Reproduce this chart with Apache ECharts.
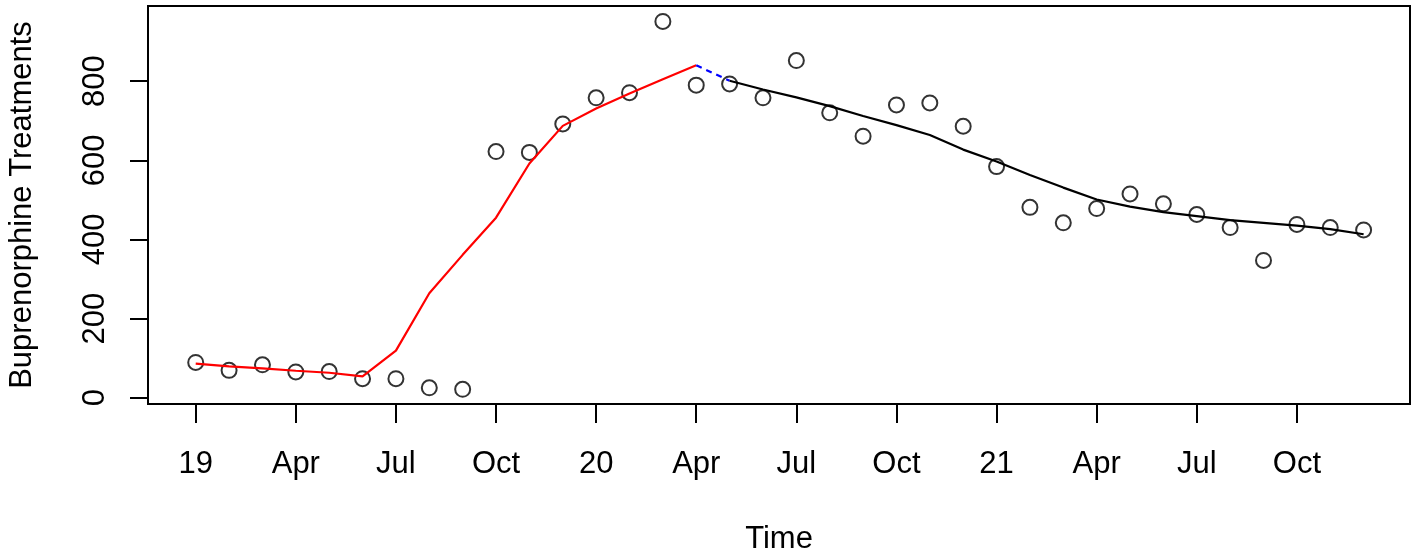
<!DOCTYPE html>
<html>
<head>
<meta charset="utf-8">
<script src="https://cdn.jsdelivr.net/npm/echarts@6/dist/echarts.min.js"></script>
<style>
html,body{margin:0;padding:0;background:#fff;}
#chart{width:1417px;height:554px;}
</style>
</head>
<body>
<div id="chart"></div>
<script>
// Months Jan 2019 .. Dec 2021 (index 0..35)
const months = [
 "2019-01","2019-02","2019-03","2019-04","2019-05","2019-06","2019-07","2019-08","2019-09","2019-10","2019-11","2019-12",
 "2020-01","2020-02","2020-03","2020-04","2020-05","2020-06","2020-07","2020-08","2020-09","2020-10","2020-11","2020-12",
 "2021-01","2021-02","2021-03","2021-04","2021-05","2021-06","2021-07","2021-08","2021-09","2021-10","2021-11","2021-12"
];
// Observed treatments (circles)
const observed = [89,69,83,65,66,48,48,25,21,622,620,692,
                  758,771,951,790,793,758,852,720,661,740,745,686,
                  584,481,442,478,515,490,463,430,347,438,430,424];
// Fitted pre-period (red), Jan 2019 .. Apr 2020
const fittedPre = [86,79,74,68,63,54,119,264,361,455,592,687,731,769,805,840];
// Transition (blue dashed), Apr 2020 .. May 2020
const transition = [840,801];
// Fitted post-period (black), May 2020 .. Dec 2021
const fittedPost = [801,779,759,737,712,689,664,627,597,563,531,501,483,469,459,449,442,435,426,413];
// Tick marks
const xTickIdx = [0,3,6,9,12,15,18,21,24,27,30,33];
const xTickLabels = ["19","Apr","Jul","Oct","20","Apr","Jul","Oct","21","Apr","Jul","Oct"];
const yTicks = [0,200,400,600,800];

const preStart = 0;
const transStart = fittedPre.length - 1;
const postStart = transStart + transition.length - 1;

const obsData = observed.map((v,i)=>[i,v]);
const preData = fittedPre.map((v,i)=>[preStart+i,v]);
const transData = transition.map((v,i)=>[transStart+i,v]);
const postData = fittedPost.map((v,i)=>[postStart+i,v]);

const font = 'Liberation Sans, Arial, sans-serif';
const chart = echarts.init(document.getElementById('chart'), null, {renderer:'canvas'});
chart.setOption({
  animation:false,
  backgroundColor:'#fff',
  grid:{left:148,right:7,top:6,bottom:150,show:true,borderColor:'#000',borderWidth:2,backgroundColor:'transparent',
        containLabel:false,outerBoundsMode:'none'},
  xAxis:{
    type:'value', min:-1.43, max:36.39,
    name:'Time', nameLocation:'middle', nameGap:120,
    nameTextStyle:{fontFamily:font,fontSize:31,color:'#000'},
    axisLine:{show:false,onZero:false},
    splitLine:{show:false},
    axisTick:{show:true,inside:false,length:19,lineStyle:{color:'#000',width:2},customValues:xTickIdx},
    axisLabel:{show:true,margin:45,fontFamily:font,fontSize:31,color:'#000',customValues:xTickIdx,
      formatter:function(v){const k=xTickIdx.indexOf(Math.round(v));return k>=0?xTickLabels[k]:'';}}
  },
  yAxis:{
    type:'value', min:-16, max:990,
    name:'Buprenorphine Treatments', nameLocation:'middle', nameGap:110, nameRotate:90,
    nameTextStyle:{fontFamily:font,fontSize:31,color:'#000'},
    axisLine:{show:false,onZero:false},
    splitLine:{show:false},
    axisTick:{show:true,inside:false,length:18,lineStyle:{color:'#000',width:2},customValues:yTicks},
    axisLabel:{show:true,rotate:90,margin:53,fontFamily:font,fontSize:31,color:'#000',customValues:yTicks,
      verticalAlign:'middle',align:'center'}
  },
  series:[
    {type:'scatter',data:obsData,symbol:'circle',symbolSize:15,z:2,
     itemStyle:{color:'rgba(0,0,0,0)',borderColor:'#000',borderWidth:2}},
    {type:'line',data:preData,showSymbol:false,z:3,lineStyle:{color:'#ff0000',width:2.2}},
    {type:'line',data:transData,showSymbol:false,z:3,lineStyle:{color:'#0000ff',width:2.2,type:[6,5]}},
    {type:'line',data:postData,showSymbol:false,z:3,lineStyle:{color:'#000',width:2.2}}
  ]
});
</script>
</body>
</html>
